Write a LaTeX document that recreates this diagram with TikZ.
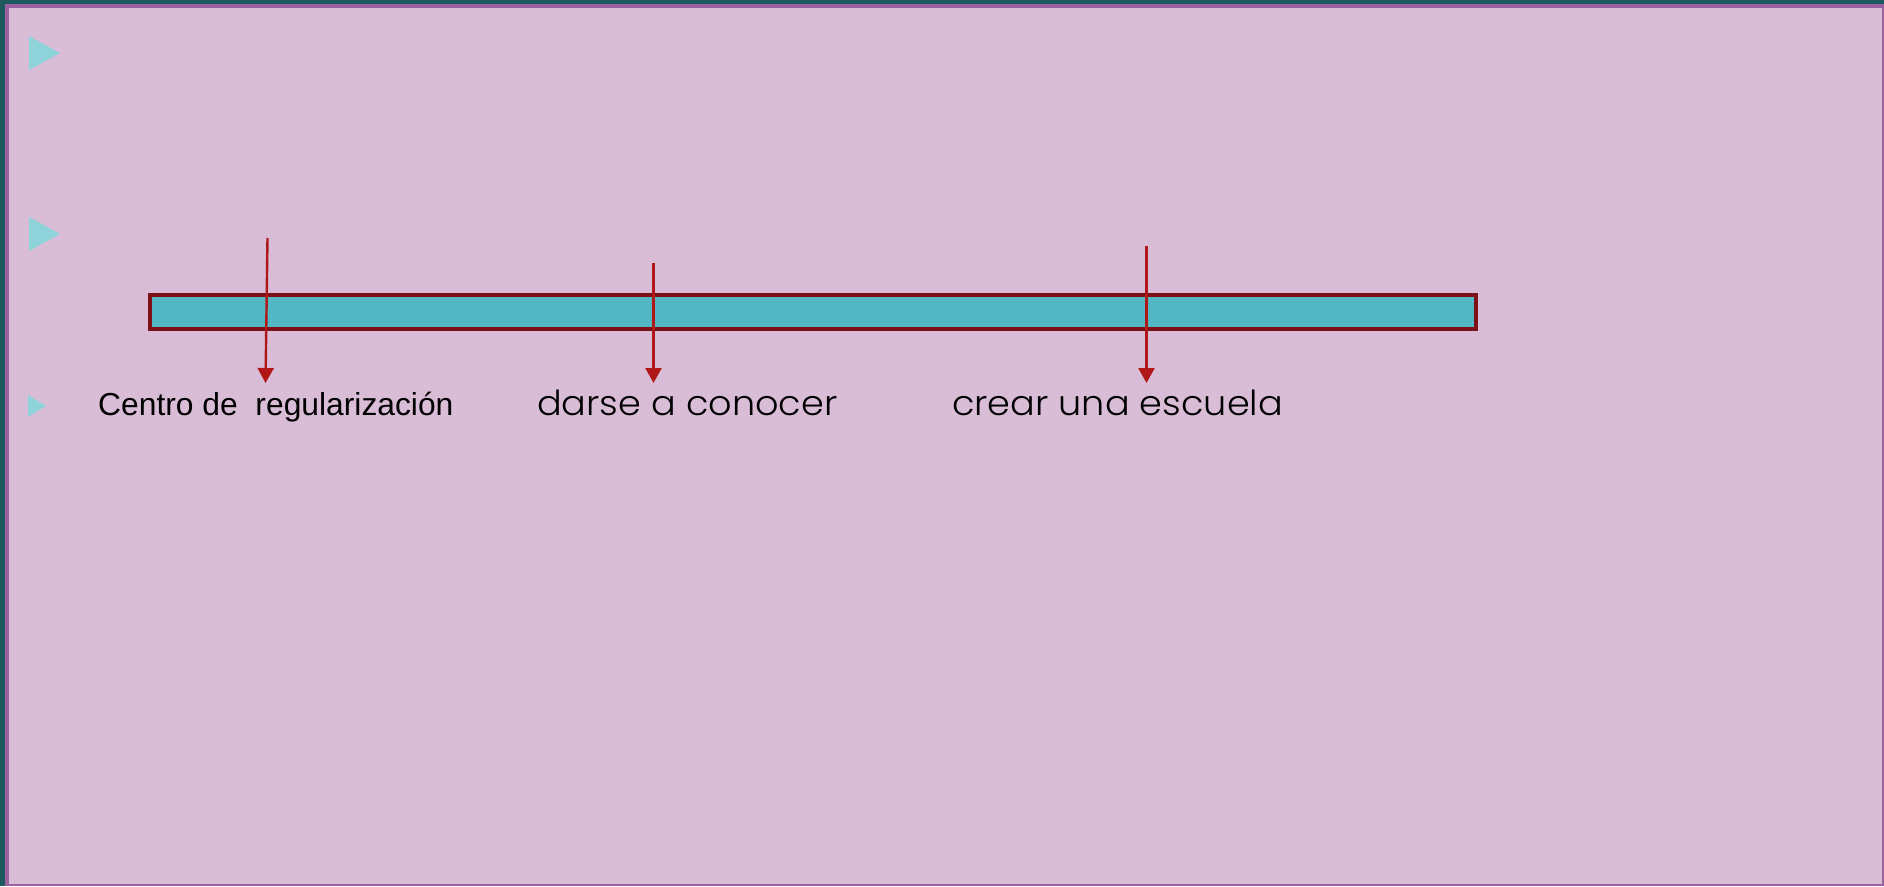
\documentclass[tikz,border=0pt]{standalone}
\usepackage{graphicx}
\usepackage{fontspec}
\setmainfont{Liberation Sans}
\newfontfamily\gothic{Poppins}[UprightFont=* Light]
\usetikzlibrary{arrows.meta}
\definecolor{outerteal}{HTML}{1E5960}
\definecolor{framepurple}{HTML}{9C62A0}
\definecolor{slidepink}{HTML}{D9BDD7}
\definecolor{bullet}{HTML}{8ED3D9}
\definecolor{barfill}{HTML}{52B9C4}
\definecolor{barline}{HTML}{7F1018}
\definecolor{arrowred}{HTML}{B01818}
\newcommand{\widegothic}[1]{\scalebox{1.062}[1]{#1}}
\tikzset{
  bulletmark/.style={fill=bullet, draw=none},
  timebar/.style={draw=barline, line width=4pt, fill=barfill},
  pointer/.style={draw=arrowred, line width=2.4pt, -{Triangle[width=16pt,length=15pt]}},
  armlabel/.style={inner sep=0pt, anchor=base west, text=black},
  gothiclabel/.style={armlabel, font=\gothic\fontsize{34.5}{40}\selectfont},
}
\begin{document}
\begin{tikzpicture}[x=1pt,y=-1pt]
  \useasboundingbox (0,0) rectangle (1884,886);
  % frame
  \fill[outerteal] (0,0) rectangle (1884,886);
  \fill[framepurple] (5,4) rectangle (1884,886);
  \fill[slidepink] (9,8) rectangle (1882,884);
  % bullets
  \fill[bulletmark] (29,36) -- (29,70) -- (60,53) -- cycle;
  \fill[bulletmark] (29,217) -- (29,251) -- (60,234) -- cycle;
  \fill[bulletmark] (28,395) -- (28,417) -- (46,406) -- cycle;
  % bar
  \draw[timebar] (150,295) rectangle (1476,329);
  \coordinate (bar) at (813,312);
  % labels
  \node[armlabel, font=\fontsize{31.8}{38}\selectfont] (centro) at (98,415) {Centro de\ \ regularización};
  \node[gothiclabel] (darse) at (537,415) {\widegothic{darse a conocer}};
  \node[gothiclabel] (crear) at (952,415) {\widegothic{crear una escuela}};
  % arrows
  \coordinate (s1) at (267.5,238);
  \coordinate (t1) at (265.5,383);
  \coordinate (s2) at (653.5,263);
  \coordinate (t2) at (653.5,383);
  \coordinate (s3) at (1146.5,246);
  \coordinate (t3) at (1146.5,383);
  \draw[pointer] (s1) -- (t1);
  \draw[pointer] (s2) -- (t2);
  \draw[pointer] (s3) -- (t3);
\end{tikzpicture}
\end{document}
